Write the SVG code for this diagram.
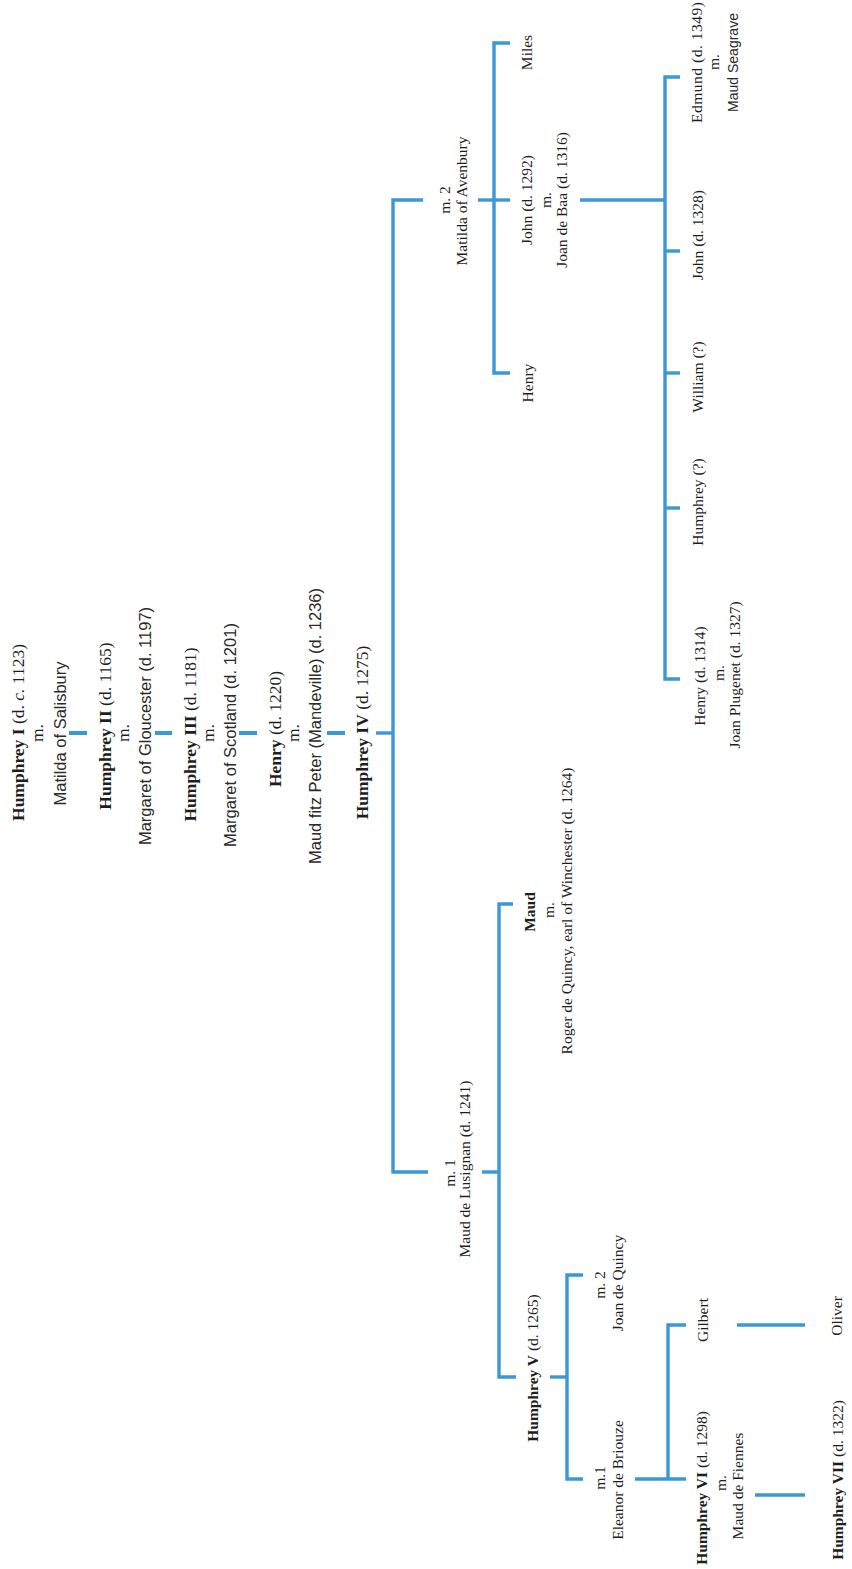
<svg xmlns="http://www.w3.org/2000/svg" width="852" height="1569" viewBox="0 0 852 1569">
<style>
text{fill:#1e1e1e;text-anchor:middle}
.a{font-family:"Liberation Serif",serif;font-size:17.5px}
.as{font-family:"Liberation Sans",sans-serif;font-size:16.5px;fill:#2a2a2a}
.r{font-family:"Liberation Serif",serif;font-size:15.5px}
.rs{font-family:"Liberation Sans",sans-serif;font-size:14px;fill:#2a2a2a}
.b{font-weight:bold}
.i{font-style:italic}
.ln{fill:none;stroke:#3a98d5;stroke-width:3.4;stroke-linecap:butt;stroke-linejoin:miter}
.dash{stroke-width:4}
</style>
<rect width="852" height="1569" fill="#ffffff"/>
<g id="connectors">
<line class="ln dash" x1="69" y1="733" x2="87" y2="733"/>
<line class="ln dash" x1="155" y1="733" x2="172" y2="733"/>
<line class="ln dash" x1="239" y1="733" x2="257" y2="733"/>
<line class="ln dash" x1="327" y1="733" x2="345" y2="733"/>
<line class="ln" x1="376" y1="733" x2="393" y2="733"/>
<path class="ln" d="M423,200 H393 V1172 H428"/>
<line class="ln" x1="478" y1="200" x2="510" y2="200"/>
<path class="ln" d="M510,43 H494 V373 H510"/>
<line class="ln" x1="580" y1="200" x2="665" y2="200"/>
<path class="ln" d="M680,77 H665 V679 H680"/>
<line class="ln" x1="665" y1="251" x2="680" y2="251"/>
<line class="ln" x1="665" y1="373" x2="680" y2="373"/>
<line class="ln" x1="665" y1="508" x2="680" y2="508"/>
<line class="ln" x1="482" y1="1172" x2="499" y2="1172"/>
<path class="ln" d="M513,904 H499 V1377 H516"/>
<line class="ln" x1="550" y1="1377" x2="567" y2="1377"/>
<path class="ln" d="M583,1275 H567 V1479 H583"/>
<line class="ln" x1="635" y1="1479" x2="686" y2="1479"/>
<path class="ln" d="M686,1325 H668 V1479"/>
<line class="ln" x1="737" y1="1325" x2="805" y2="1325"/>
<line class="ln" x1="755" y1="1495" x2="805" y2="1495"/>
</g>
<g id="humphrey1">
<text class="a" transform="translate(24 732.5) rotate(-90)"><tspan class="b">Humphrey I</tspan> (d. <tspan class="i">c.</tspan> 1123)</text>
<text class="a" transform="translate(43 733) rotate(-90)">m.</text>
<text class="as" transform="translate(66 733.5) rotate(-90)">Matilda of Salisbury</text>
</g>
<g id="humphrey2">
<text class="a" transform="translate(111 726) rotate(-90)"><tspan class="b">Humphrey II</tspan> (d. 1165)</text>
<text class="a" transform="translate(129 733) rotate(-90)">m.</text>
<text class="as" transform="translate(151 726) rotate(-90)">Margaret of Gloucester (d. 1197)</text>
</g>
<g id="humphrey3">
<text class="a" transform="translate(196 734.5) rotate(-90)"><tspan class="b">Humphrey III</tspan> (d. 1181)</text>
<text class="a" transform="translate(214 733) rotate(-90)">m.</text>
<text class="as" transform="translate(236 735) rotate(-90)">Margaret of Scotland (d. 1201)</text>
</g>
<g id="henry1220">
<text class="a" transform="translate(281 729) rotate(-90)"><tspan class="b">Henry</tspan> (d. 1220)</text>
<text class="a" transform="translate(299 733) rotate(-90)">m.</text>
<text class="as" transform="translate(321 726) rotate(-90)">Maud fitz Peter (Mandeville) (d. 1236)</text>
</g>
<g id="humphrey4">
<text class="a" transform="translate(368 732.5) rotate(-90)"><tspan class="b">Humphrey IV</tspan> (d. 1275)</text>
</g>
<g id="matilda-avenbury">
<text class="r" transform="translate(450 200) rotate(-90)">m. 2</text>
<text class="r" transform="translate(467 201) rotate(-90)">Matilda of Avenbury</text>
</g>
<g id="miles">
<text class="r" transform="translate(532 52.5) rotate(-90)">Miles</text>
</g>
<g id="john1292">
<text class="r" transform="translate(532 200) rotate(-90)">John (d. 1292)</text>
<text class="r" transform="translate(551 200) rotate(-90)">m.</text>
<text class="r" transform="translate(567 200) rotate(-90)">Joan de Baa (d. 1316)</text>
</g>
<g id="henry-avenbury">
<text class="r" transform="translate(533 383) rotate(-90)">Henry</text>
</g>
<g id="edmund">
<text class="r" transform="translate(702 123) rotate(-90)" style="text-anchor:start" textLength="121" lengthAdjust="spacing">Edmund (d. 1349)</text>
<text class="r" transform="translate(719 62) rotate(-90)">m.</text>
<text class="rs" transform="translate(738 62.5) rotate(-90)">Maud Seagrave</text>
</g>
<g id="john1328">
<text class="r" transform="translate(703 235) rotate(-90)">John (d. 1328)</text>
</g>
<g id="william">
<text class="r" transform="translate(703 377) rotate(-90)">William (?)</text>
</g>
<g id="humphrey-q">
<text class="r" transform="translate(703 502) rotate(-90)">Humphrey (?)</text>
</g>
<g id="henry1314">
<text class="r" transform="translate(705 676) rotate(-90)">Henry (d. 1314)</text>
<text class="r" transform="translate(724 673) rotate(-90)">m.</text>
<text class="r" transform="translate(740 675) rotate(-90)">Joan Plugenet (d. 1327)</text>
</g>
<g id="maud-lusignan">
<text class="r" transform="translate(455 1173) rotate(-90)">m. 1</text>
<text class="r" transform="translate(470 1169) rotate(-90)">Maud de Lusignan (d. 1241)</text>
</g>
<g id="maud">
<text class="r b" transform="translate(535 912) rotate(-90)">Maud</text>
<text class="r" transform="translate(554 910) rotate(-90)">m.</text>
<text class="r" transform="translate(572 911) rotate(-90)">Roger de Quincy, earl of Winchester (d. 1264)</text>
</g>
<g id="humphrey5">
<text class="r" transform="translate(538 1368) rotate(-90)"><tspan class="b">Humphrey V</tspan> (d. 1265)</text>
</g>
<g id="joan-quincy">
<text class="r" transform="translate(605 1285) rotate(-90)">m. 2</text>
<text class="r" transform="translate(623 1283) rotate(-90)">Joan de Quincy</text>
</g>
<g id="eleanor">
<text class="r" transform="translate(605 1478) rotate(-90)">m.1</text>
<text class="r" transform="translate(623 1480) rotate(-90)">Eleanor de Briouze</text>
</g>
<g id="gilbert">
<text class="r" transform="translate(708 1320) rotate(-90)">Gilbert</text>
</g>
<g id="humphrey6">
<text class="r" transform="translate(707 1488) rotate(-90)"><tspan class="b">Humphrey VI</tspan> (d. 1298)</text>
<text class="r" transform="translate(726 1483) rotate(-90)">m.</text>
<text class="r" transform="translate(743 1486) rotate(-90)">Maud de Fiennes</text>
</g>
<g id="oliver">
<text class="r" transform="translate(842 1316) rotate(-90)">Oliver</text>
</g>
<g id="humphrey7">
<text class="r" transform="translate(843 1480) rotate(-90)"><tspan class="b">Humphrey VII</tspan> (d. 1322)</text>
</g>
</svg>
